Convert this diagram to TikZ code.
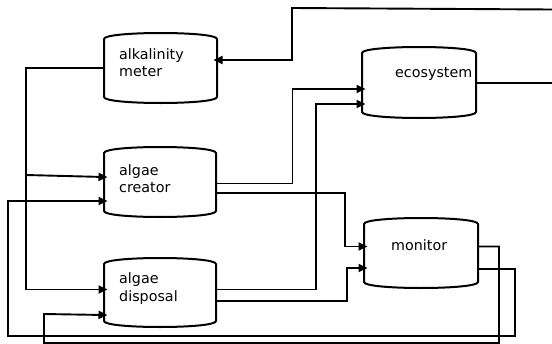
\documentclass[tikz,border=0pt]{standalone}
\usepackage{fontspec}
\setmainfont{DejaVu Sans}
\usetikzlibrary{arrows.meta,calc}
\tikzset{
  boxn/.style={draw=none, rectangle, inner sep=0pt, outer sep=0pt},
  boxline/.style={line width=2pt},
  conn/.style={line width=1.9pt, -{Triangle[length=9pt,width=8pt]}, shorten >=-3.5pt},
  wire/.style={line width=1.9pt},
  lbl/.style={anchor=base west, inner sep=0pt, font=\fontsize{14.3}{17}\selectfont},
}
\newcommand\cylbox[1]{\draw[boxline] ($(#1.north west)+(0,6)$) .. controls ($(#1.north west)+(0,-2)$) and ($(#1.north east)+(0,-2)$) .. ($(#1.north east)+(0,6)$) -- ($(#1.south east)+(0,-6)$) .. controls ($(#1.south east)+(0,2)$) and ($(#1.south west)+(0,2)$) .. ($(#1.south west)+(0,-6)$) -- cycle;}
\begin{document}
\begin{tikzpicture}[x=1pt,y=-1pt]
\useasboundingbox (0,0) rectangle (552,343);
% boxes
\node[boxn, minimum width=113pt, minimum height=70pt] (alk) at (160.5,68) {};
\node[boxn, minimum width=112pt, minimum height=70pt] (creator) at (160,182) {};
\node[boxn, minimum width=112pt, minimum height=69pt] (disp) at (160,292.5) {};
\node[boxn, minimum width=114pt, minimum height=71pt] (eco) at (419,82.5) {};
\node[boxn, minimum width=114pt, minimum height=70pt] (mon) at (421,253) {};
\cylbox{alk}
\cylbox{creator}
\cylbox{disp}
\cylbox{eco}
\cylbox{mon}
% labels
\node[lbl] (alkA) at (119,59.3) {alkalinity};
\node[lbl] (alkB) at (119,76.7) {meter};
\node[lbl] (creA) at (119,175) {algae};
\node[lbl] (creB) at (119,192) {creator};
\node[lbl] (disA) at (119,283.7) {algae};
\node[lbl] (disB) at (119,301.3) {disposal};
\node[lbl] (ecoT) at (395,77) {ecosystem};
\node[lbl] (monT) at (391,250.3) {monitor};
% free ends
\coordinate (topin) at (552,9.5);
\coordinate (ecoout) at (552,83);
% connectors
\draw[conn] (topin) -- (292,8) -- (292,60) -- (alk.east |- 0,60);
\draw[wire] (eco.east |- 0,83) -- (ecoout);
\draw[conn] (alk.west) -- (26,68) -- (26,289.5) -- (disp.west |- 0,289.5);
\draw[conn] (26,175) -- (creator.west |- 0,177);
\draw[conn] (mon.east |- 0,269) -- (515,269) -- (515,336) -- (8,336) -- (8,201) -- (creator.west |- 0,201);
\draw[conn] (mon.east |- 0,246.5) -- (499,246.5) -- (499,343) -- (44,343) -- (44,314) -- (disp.west |- 0,315);
\draw[conn] (creator.east |- 0,183.5) -- (292.5,183.5) -- (292.5,89) -- (eco.west |- 0,89);
\draw[conn] (creator.east |- 0,193) -- (345,193) -- (345,246.5) -- (mon.west |- 0,246.5);
\draw[conn] (disp.east |- 0,289.5) -- (316,289.5) -- (316,104) -- (eco.west |- 0,104);
\draw[conn] (disp.east |- 0,301) -- (347,301) -- (347,268) -- (mon.west |- 0,268);
\end{tikzpicture}
\end{document}
